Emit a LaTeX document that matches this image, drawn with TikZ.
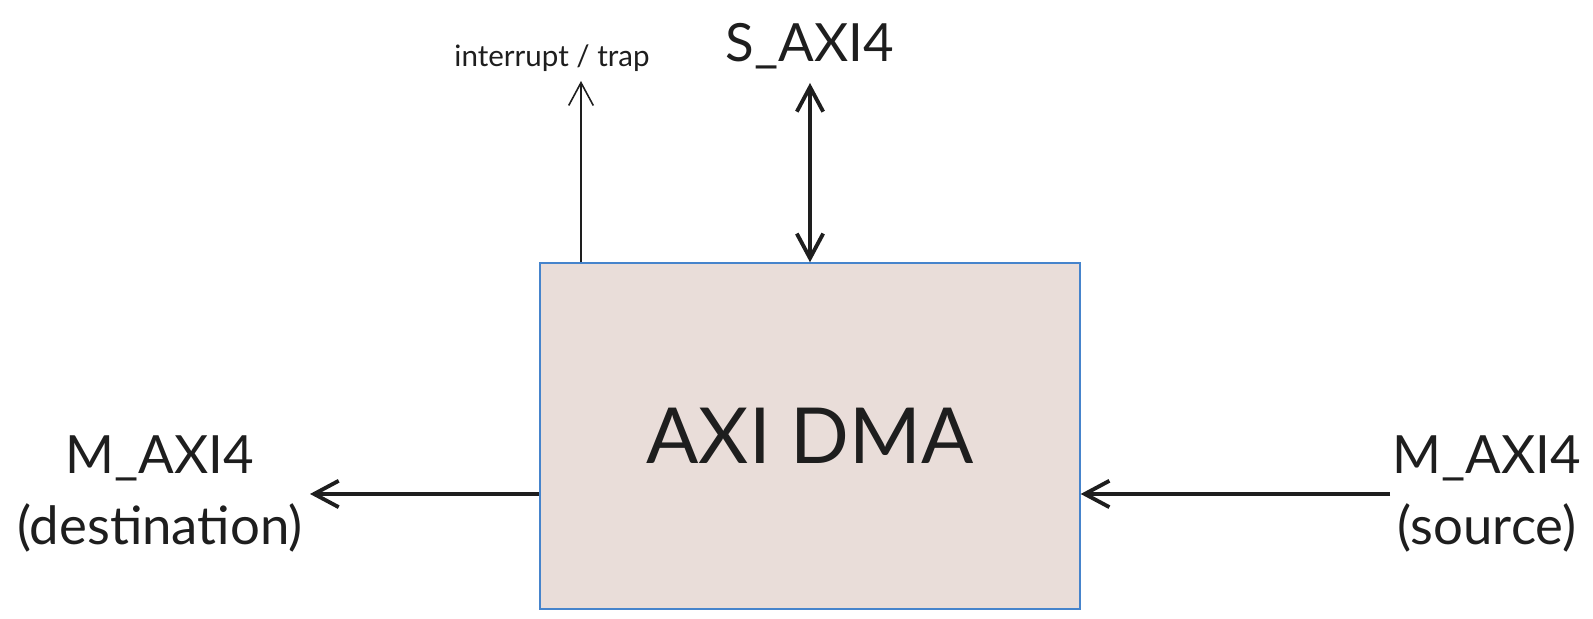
\documentclass[tikz,border=0pt]{standalone}
\usepackage{fontspec}
\setmainfont{Lato}
\definecolor{dmafill}{RGB}{233, 221, 217}
\definecolor{dmaedge}{RGB}{70, 132, 204}
\definecolor{inkgray}{RGB}{30, 30, 30}
\usetikzlibrary{arrows.meta, positioning, calc}

\begin{document}
\begin{tikzpicture}[
  lbl/.style={inner sep=0pt, text=inkgray, font=\fontsize{15}{20}\selectfont, align=center},
  arr/.style={-{Straight Barb[length=7pt, width=7.5pt, line width=1.1pt]}, line width=1.1pt, inkgray},
  thinarr/.style={-{Straight Barb[length=6.5pt, width=7pt, line width=0.45pt]}, line width=0.45pt, inkgray}
]
  \useasboundingbox (0, 0) rectangle (15.93, 6.19);

  \node[draw=dmaedge, line width=0.4pt, fill=dmafill, minimum width=5.4cm, minimum height=3.46cm,
        text=inkgray, font=\fontsize{22}{26}\selectfont] (dma) at (8.10, 1.83) {AXI DMA};

  \node[lbl] (saxi) at (8.10, 5.73) {S\_AXI4};
  \node[lbl, font=\fontsize{8.4}{10}\selectfont] (irq) at (5.52, 5.61) {interrupt / trap};
  \node[lbl] (mdst) at (1.60, 1.25) {M\_AXI4\\(destination)};
  \node[lbl] (msrc) at (14.87, 1.25) {M\_AXI4\\(source)};

  \coordinate (irqend) at (5.81, 5.38);
  \coordinate (saxiend) at (8.10, 5.36);
  \coordinate (dstend) at (3.10, 1.25);
  \coordinate (srcstart) at (13.90, 1.25);

  \draw[arr, {Straight Barb[length=7pt, width=7.5pt, line width=1.1pt]}-{Straight Barb[length=7pt, width=7.5pt, line width=1.1pt]}] (dma.north) -- (saxiend);
  \draw[thinarr] (dma.north west -| irqend) -- (irqend);
  \draw[arr] (dma.west |- dstend) -- (dstend);
  \draw[arr] (srcstart) -- (dma.east |- srcstart);
\end{tikzpicture}
\end{document}
